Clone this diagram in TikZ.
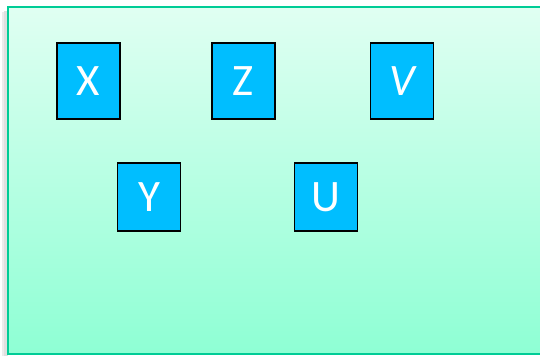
\documentclass[tikz,border=0pt]{standalone}
\usepackage{fontspec}
\setmainfont{Carlito}
\definecolor{bgtop}{RGB}{224,255,242}
\definecolor{bgbot}{RGB}{142,255,212}
\definecolor{frame}{RGB}{0,204,150}
\definecolor{boxfill}{RGB}{0,190,255}
\tikzset{
  varbox/.style={draw=black, line width=1.9pt, fill=boxfill, text=white,
    minimum width=63pt, inner sep=0pt, font=\fontsize{45}{45}\selectfont},
  tallbox/.style={varbox, minimum height=76pt},
  shortbox/.style={varbox, minimum height=68pt}
}
\begin{document}
\begin{tikzpicture}[x=1pt,y=-1pt]
\useasboundingbox (0,0) rectangle (540,356);
\begin{scope}
\clip (0,0) rectangle (540,356);
% soft shadow on left
\fill[black!25, opacity=0.5] (4,11) rectangle (8,356);
\fill[black!15, opacity=0.5] (2,12) rectangle (4,356);
% background panel
\shade[top color=bgtop, bottom color=bgbot] (8,7) rectangle (560,354);
\draw[frame, line width=2.2pt] (560,7) -- (8,7) -- (8,354) -- (560,354);
\end{scope}
% variables
\node[tallbox] (X) at (88.5,81) {X};
\node[tallbox] (Z) at (243.5,81) {Z};
\node[tallbox] (V) at (402,81) {\itshape V};
\node[shortbox] (Y) at (149,197) {Y};
\node[shortbox] (U) at (326,197) {U};
\end{tikzpicture}
\end{document}
